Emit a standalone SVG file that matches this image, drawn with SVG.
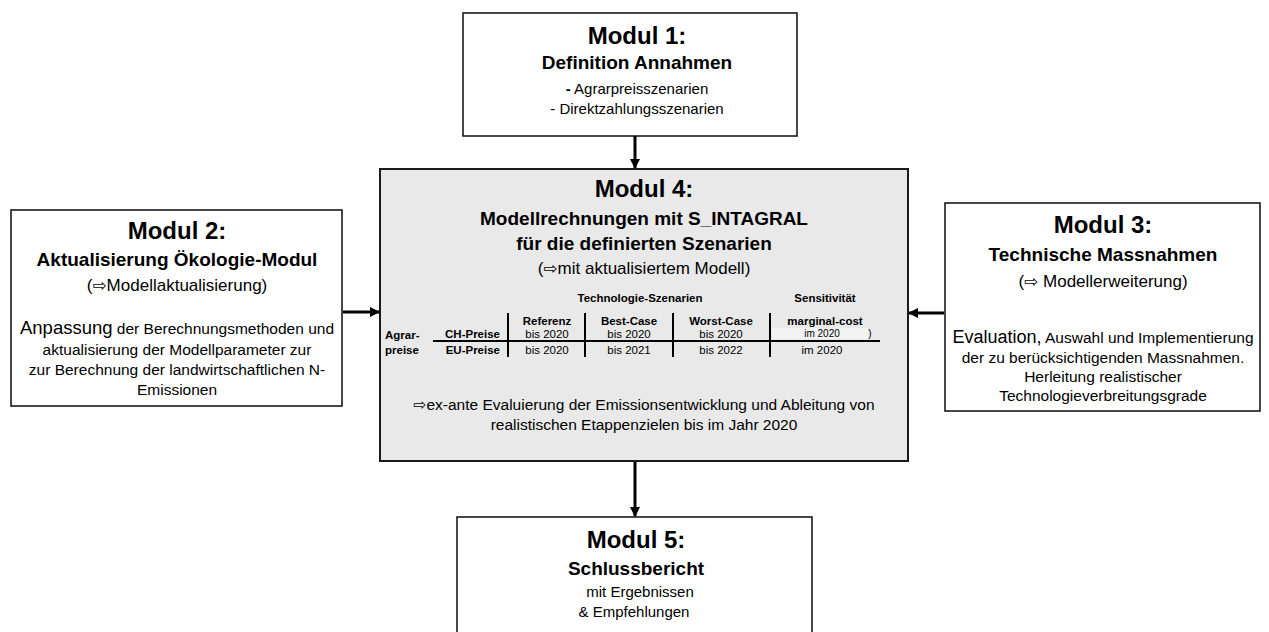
<svg xmlns="http://www.w3.org/2000/svg" width="1269" height="632" viewBox="0 0 1269 632">
<style>
text{font-family:"Liberation Sans",Arial,"DejaVu Sans",sans-serif;fill:#000;text-anchor:middle}
.box{fill:#fff;stroke:#1a1a1a;stroke-width:1.6}
.gray{fill:#e9e9e9;stroke:#1a1a1a;stroke-width:2}
.t{font-size:24px;font-weight:bold}
.s{font-size:19px;font-weight:bold}
.p{font-size:17px}
.b{font-size:15.5px}
.b15{font-size:15px}
.th{font-size:11.5px;font-weight:bold}
.tv{font-size:11.5px}
.st{text-anchor:start}
.en{text-anchor:end}
.tl{stroke:#000;stroke-width:2}
.con{stroke:#000;stroke-width:3;fill:none}
</style>
<defs>
<marker id="ah" viewBox="0 0 10 10" refX="9" refY="5" markerWidth="10" markerHeight="10" markerUnits="userSpaceOnUse" orient="auto">
<path d="M0,0 L10,5 L0,10 z" fill="#000"/>
</marker>
</defs>

<g id="modul1">
<rect class="box" x="463" y="13" width="334" height="123"/>
<text class="t" x="637" y="44">Modul 1:</text>
<text class="s" x="637" y="69">Definition Annahmen</text>
<text class="b15" x="637" y="94"><tspan font-weight="bold">-</tspan> Agrarpreisszenarien</text>
<text class="b15" x="637" y="114">- Direktzahlungsszenarien</text>
</g>

<g id="modul4">
<rect class="gray" x="380" y="169" width="528" height="292"/>
<text class="t" x="644" y="197">Modul 4:</text>
<text class="s" x="644" y="225">Modellrechnungen mit S_INTAGRAL</text>
<text class="s" x="644" y="250">für die definierten Szenarien</text>
<text class="p" x="644" y="274">(⇨mit aktualisiertem Modell)</text>
<text class="th" x="640" y="302">Technologie-Szenarien</text>
<text class="th" x="825" y="302">Sensitivität</text>
<rect x="772" y="328" width="96" height="11" fill="#f3f3f3"/>
<line class="tl" x1="508" y1="313" x2="508" y2="357"/>
<line class="tl" x1="585" y1="313" x2="585" y2="357"/>
<line class="tl" x1="673" y1="313" x2="673" y2="357"/>
<line class="tl" x1="770" y1="313" x2="770" y2="357"/>
<line class="tl" x1="433" y1="341" x2="880" y2="341"/>
<text class="th" x="547" y="325">Referenz</text>
<text class="th" x="629" y="325">Best-Case</text>
<text class="th" x="721" y="325">Worst-Case</text>
<text class="th" x="825" y="325">marginal-cost</text>
<text class="th st" x="385" y="339">Agrar-</text>
<text class="th st" x="385" y="354">preise</text>
<text class="th en" x="500" y="338">CH-Preise</text>
<text class="th en" x="500" y="354">EU-Preise</text>
<text class="tv" x="547" y="338">bis 2020</text>
<text class="tv" x="629" y="338">bis 2020</text>
<text class="tv" x="721" y="338">bis 2020</text>
<text x="822" y="337" font-size="10px">im 2020</text>
<text x="870" y="337" font-size="10px">)</text>
<text class="tv" x="547" y="354">bis 2020</text>
<text class="tv" x="629" y="354">bis 2021</text>
<text class="tv" x="721" y="354">bis 2022</text>
<text class="tv" x="822" y="354">im 2020</text>
<text class="b" x="644" y="410">⇨ex-ante Evaluierung der Emissionsentwicklung und Ableitung von</text>
<text class="b" x="644" y="430">realistischen Etappenzielen bis im Jahr 2020</text>
</g>

<g id="modul2">
<rect class="box" x="11" y="210" width="331" height="196"/>
<text class="t" x="177" y="239">Modul 2:</text>
<text class="s" x="177" y="266">Aktualisierung Ökologie-Modul</text>
<text class="p" x="177" y="291">(⇨Modellaktualisierung)</text>
<text class="b" x="177" y="334"><tspan font-size="18.5px">Anpassung</tspan> der Berechnungsmethoden und</text>
<text class="b" x="177" y="355">aktualisierung der Modellparameter zur</text>
<text class="b" x="177" y="375">zur Berechnung der landwirtschaftlichen N-</text>
<text class="b" x="177" y="395">Emissionen</text>
</g>

<g id="modul3">
<rect class="box" x="945" y="203" width="315" height="208"/>
<text class="t" x="1103" y="233">Modul 3:</text>
<text class="s" x="1103" y="261">Technische Massnahmen</text>
<text class="p" x="1103" y="287">(⇨ Modellerweiterung)</text>
<text class="b" x="1103" y="343"><tspan font-size="18px">Evaluation,</tspan> Auswahl und Implementierung</text>
<text class="b" x="1103" y="363">der zu berücksichtigenden Massnahmen.</text>
<text class="b" x="1103" y="382">Herleitung realistischer</text>
<text class="b" x="1103" y="401">Technologieverbreitungsgrade</text>
</g>

<g id="modul5">
<rect class="box" x="457" y="517" width="355" height="125"/>
<text class="t" x="636" y="548">Modul 5:</text>
<text class="s" x="636" y="575">Schlussbericht</text>
<text class="b15" x="640" y="597">mit Ergebnissen</text>
<text class="b15" x="634" y="617">&amp; Empfehlungen</text>
</g>

<g id="connectors">
<line class="con" x1="635" y1="136" x2="635" y2="168" marker-end="url(#ah)"/>
<line class="con" x1="635" y1="462" x2="635" y2="516" marker-end="url(#ah)"/>
<line class="con" x1="343" y1="312" x2="379" y2="312" marker-end="url(#ah)"/>
<line class="con" x1="944" y1="313" x2="909" y2="313" marker-end="url(#ah)"/>
</g>
</svg>
